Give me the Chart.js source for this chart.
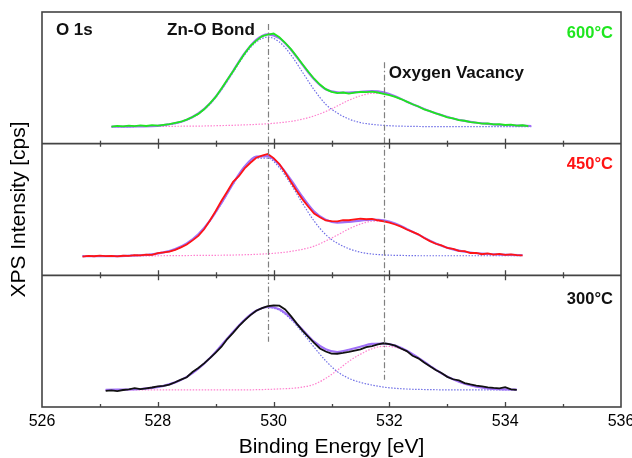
<!DOCTYPE html>
<html>
<head>
<meta charset="utf-8">
<script src="https://cdn.jsdelivr.net/npm/chart.js@4.4.0/dist/chart.umd.min.js"></script>
<style>
html,body{margin:0;padding:0;background:#fff;}
#wrap{width:632px;height:458px;position:relative;}
</style>
</head>
<body>
<div id="wrap"><canvas id="c" width="632" height="458"></canvas></div>
<script>
// ---------- DATA ----------
// x tick labels (binding energy, eV)
const tickLabels = [526, 528, 530, 532, 534, 536];
const minorTicks = [527, 529, 531, 533, 535];

// ----- 600 °C -----
const energy600 = [527.2,527.3,527.4,527.5,527.6,527.7,527.8,527.9,528.0,528.1,528.2,528.3,528.4,528.5,528.6,528.7,528.8,528.9,529.0,529.1,529.2,529.3,529.4,529.5,529.6,529.7,529.8,529.9,530.0,530.1,530.2,530.3,530.4,530.5,530.6,530.7,530.8,530.9,531.0,531.1,531.2,531.3,531.4,531.5,531.6,531.7,531.8,531.9,532.0,532.1,532.2,532.3,532.4,532.5,532.6,532.7,532.8,532.9,533.0,533.1,533.2,533.3,533.4,533.5,533.6,533.7,533.8,533.9,534.0,534.1,534.2,534.3,534.4];
const counts600 = [17.0,17.6,17.2,17.9,17.4,18.2,17.6,18.4,18.0,18.8,
  19.4,20.6,21.8,24.0,26.5,29.6,34.2,40.0,46.5,55.0,
  63.6,72.0,81.0,89.8,97.2,102.5,106.8,108.6,109.6,105.8,
  100.4,94.0,86.8,79.0,71.5,64.6,58.8,54.2,51.6,50.2,
  50.9,49.8,50.8,51.6,51.2,51.8,50.9,49.6,48.4,46.6,
  44.4,41.8,39.2,37.0,34.2,32.3,30.1,28.4,26.2,25.1,
  23.4,22.8,21.4,21.0,20.0,20.2,19.2,19.5,18.6,18.9,
  18.0,18.3,17.5];
const compE600 = [527.2,527.5,527.7,527.9,528.1,528.3,528.5,528.7,528.9,529.1,529.3,529.5,529.7,529.9,530.1,530.3,530.5,530.7,530.9,531.1,531.3,531.5,531.7,531.9,532.1,532.3,532.5,532.7,532.9,533.1,533.3,533.5,533.7,533.9,534.1,534.3,534.45];
const znO600 = [17,17,17.1,17.3,18.3,20,23.5,29.5,39.2,53.6,
  71,88.3,101.2,106,101.2,88.3,71,53.6,39.2,30.5,24.5,21,19.2,18.2,17.6,
  17.3,17.1,17,17,17,17,17,17,17,17,17,17];
const vac600 = [17.0,17.0,17.1,17.1,17.2,17.3,17.4,17.5,17.7,18.0,
  18.3,18.7,19.2,19.8,20.8,22.2,24.4,27.6,32.0,37.5,
  43.2,47.6,50.0,49.8,46.6,41.5,36.8,32.2,28.4,25.0,
  22.6,20.8,19.6,18.8,18.3,17.9,17.6];
const fit600 = [17.0,17.0,17.2,17.4,18.5,20.3,23.9,30.0,39.9,54.6,
  72.3,90.0,103.4,108.8,105.0,93.5,78.4,64.2,54.2,51.0,
  50.7,51.6,52.2,51.0,47.2,41.8,36.9,32.2,28.4,25.0,
  22.6,20.8,19.6,18.8,18.3,17.9,17.6];

// ----- 450 °C -----
const energy450 = [526.7,526.8,526.9,527.0,527.1,527.2,527.3,527.4,527.5,527.6,527.7,527.8,527.9,528.0,528.1,528.2,528.3,528.4,528.5,528.6,528.7,528.8,528.9,529.0,529.1,529.2,529.3,529.4,529.5,529.6,529.7,529.8,529.9,530.0,530.1,530.2,530.3,530.4,530.5,530.6,530.7,530.8,530.9,531.0,531.1,531.2,531.3,531.4,531.5,531.6,531.7,531.8,531.9,532.0,532.1,532.2,532.3,532.4,532.5,532.6,532.7,532.8,532.9,533.0,533.1,533.2,533.3,533.4,533.5,533.6,533.7,533.8,533.9,534.0,534.1,534.2,534.3];
const counts450 = [18.7,19.3,19.0,19.6,19.2,19.4,18.9,19.5,19.3,20.2,
  19.8,20.6,20.4,22.2,22.8,23.6,25.4,27.8,30.6,34.8,
  39.2,45.8,54.5,64.0,74.2,83.5,93.0,98.6,106.4,112.0,
  117.0,119.0,120.8,116.6,110.8,102.4,92.8,84.0,75.6,68.2,
  61.4,57.8,54.6,54.0,53.6,55.0,54.8,55.6,56.4,55.8,
  56.2,54.8,53.8,52.4,50.6,48.4,45.6,43.2,40.8,37.2,
  34.0,31.4,29.8,27.2,26.4,24.4,24.0,22.2,22.4,21.0,
  21.8,20.6,21.4,20.4,20.8,20.1,19.8];
const compE450 = [526.7,526.9,527.1,527.3,527.5,527.7,527.9,528.1,528.3,528.5,528.7,528.9,529.1,529.3,529.5,529.7,529.9,530.1,530.3,530.5,530.7,530.9,531.1,531.3,531.5,531.7,531.9,532.1,532.3,532.5,532.7,532.9,533.1,533.3,533.5,533.7,533.9,534.1,534.3];
const znO450 = [19.5,19.5,19.5,19.5,19.8,20.2,21.0,22.8,26.0,31.5,
  40.5,54.0,71.6,90.6,107.2,116.7,116.7,107.2,90.6,71.6,
  54.0,40.5,32.0,26.5,23.0,21.2,20.3,19.9,19.7,19.5,
  19.5,19.5,19.5,19.5,19.5,19.5,19.5,19.5,19.5];
const vac450 = [19.0,19.0,19.1,19.1,19.2,19.3,19.4,19.5,19.6,19.7,
  19.8,19.9,20.0,20.2,20.5,20.9,21.5,22.4,23.8,25.9,
  29.0,34.2,40.0,46.2,51.0,53.8,54.0,51.2,46.0,40.5,
  34.5,29.5,25.8,23.5,22.0,21.2,20.7,20.3,20.0];
const fit450 = [19.0,19.0,19.1,19.1,19.5,20.0,20.9,22.8,26.1,31.7,
  40.8,54.4,72.1,91.3,108.2,118.1,118.7,110.1,94.9,78.0,
  63.5,55.2,52.5,53.2,54.5,55.5,54.8,51.6,46.2,40.5,
  34.5,29.5,25.8,23.5,22.0,21.2,20.7,20.3,20.0];

// ----- 300 °C -----
const energy300 = [527.1,527.2,527.3,527.4,527.5,527.6,527.7,527.8,527.9,528.0,528.1,528.2,528.3,528.4,528.5,528.6,528.7,528.8,528.9,529.0,529.1,529.2,529.3,529.4,529.5,529.6,529.7,529.8,529.9,530.0,530.1,530.2,530.3,530.4,530.5,530.6,530.7,530.8,530.9,531.0,531.1,531.2,531.3,531.4,531.5,531.6,531.7,531.8,531.9,532.0,532.1,532.2,532.3,532.4,532.5,532.6,532.7,532.8,532.9,533.0,533.1,533.2,533.3,533.4,533.5,533.6,533.7,533.8,533.9,534.0,534.1,534.2];
const counts300 = [16.0,16.6,15.8,16.9,17.6,18.8,17.8,18.6,19.4,20.6,
  21.0,22.2,24.6,27.2,29.6,34.8,38.8,43.4,48.6,54.2,
  60.0,67.6,73.8,80.4,86.2,91.4,95.8,98.4,100.4,101.0,
  100.8,97.0,90.4,83.0,76.0,69.8,63.8,58.2,55.2,53.2,
  53.0,53.8,54.8,56.2,57.4,59.6,60.6,62.2,63.4,62.6,
  61.0,58.2,55.6,51.0,48.4,44.2,40.6,36.8,33.8,30.0,
  27.6,26.4,23.8,22.4,21.2,20.6,19.6,19.0,18.6,19.8,
  17.6,17.0];
const compE300 = [527.1,527.3,527.5,527.7,527.9,528.1,528.3,528.5,528.7,528.9,529.1,529.3,529.5,529.7,529.9,530.1,530.3,530.5,530.7,530.9,531.1,531.3,531.5,531.7,531.9,532.1,532.3,532.5,532.7,532.9,533.1,533.3,533.5,533.7,533.9,534.1,534.2];
const znO300 = [17.0,17.2,17.4,17.9,19.0,21.0,24.5,30.0,38.1,48.7,
  61.4,74.7,86.8,95.5,99.0,96.2,87.1,74.0,59.5,46.0,
  35.2,28.5,24.5,21.8,19.8,18.6,17.9,17.5,17.3,17.1,
  17.1,17.0,17.0,17.0,17.0,17.0,17.0];
const vac300 = [17.0,17.0,17.0,17.0,17.0,17.0,17.0,17.0,17.0,17.0,
  17.0,17.0,17.0,17.2,17.5,18.0,18.5,19.8,22.5,28.5,
  36.5,45.5,52.5,58.0,60.4,59.5,55.1,48.4,40.7,33.4,
  27.4,23.1,20.2,18.6,17.8,17.4,17.2];
const fit300 = [17.0,17.2,17.4,17.9,19.0,21.0,24.5,30.0,38.1,48.7,
  61.4,74.7,86.8,95.7,99.5,97.2,88.6,76.8,65.0,57.5,
  54.7,57.0,60.0,62.8,63.2,61.1,56.0,48.9,41.0,33.5,
  27.5,23.1,20.2,18.6,17.8,17.4,17.2];

// peak positions marked by dash-dot lines (eV)
const peakZnO = 529.9;
const peakVac = 531.9;

// ---------- STYLES ----------
const FONT = '"Liberation Sans", Arial, Helvetica, sans-serif';
const C_GREEN = '#1fe61f';
const C_RED = '#ff1414';
const C_BLACK = '#111111';
const C_FIT = '#a070f8';
const C_ZNO = '#6f6fe6';
const C_VAC = '#ff80cf';

function pts(xs, ys) { return xs.map((x, i) => ({x: x, y: ys[i]})); }

function panelSets(axis, color, E, raw, cE, fit, zno, vac) {
  return [
    {data: pts(E, raw), yAxisID: axis, borderColor: color, borderWidth: 1.8, pointRadius: 0, tension: 0, order: 0},
    {data: pts(cE, zno), yAxisID: axis, borderColor: C_ZNO, borderWidth: 1.2, borderDash: [1.5, 1.5], pointRadius: 0, cubicInterpolationMode: 'monotone', order: 2},
    {data: pts(cE, vac), yAxisID: axis, borderColor: C_VAC, borderWidth: 1.2, borderDash: [1.5, 1.5], pointRadius: 0, cubicInterpolationMode: 'monotone', order: 2},
    {data: pts(cE, fit), yAxisID: axis, borderColor: C_FIT, borderWidth: 2.2, pointRadius: 0, cubicInterpolationMode: 'monotone', order: 1}
  ];
}

const datasets = [].concat(
  panelSets('y600', C_GREEN, energy600, counts600, compE600, fit600, znO600, vac600),
  panelSets('y450', C_RED, energy450, counts450, compE450, fit450, znO450, vac450),
  panelSets('y300', C_BLACK, energy300, counts300, compE300, fit300, znO300, vac300)
);

function yAxis(withTitle) {
  return {
    type: 'linear', position: 'left', stack: 'panels', stackWeight: 1,
    min: 0, max: 131,
    ticks: {display: false},
    grid: {display: false, drawTicks: false},
    border: {display: false},
    title: {
      display: withTitle, text: 'XPS Intensity [cps]', color: '#000',
      font: {family: FONT, size: 21, lineHeight: 1.2}, padding: {top: 7, bottom: 0}
    },
    afterFit(s) { s.width = 42; }
  };
}

const decorPlugin = {
  id: 'decor',
  afterDatasetsDraw(chart) {
    const {ctx, chartArea: a, scales} = chart;
    const x = scales.x;
    const panels = [scales.y600, scales.y450, scales.y300];
    ctx.save();
    // dash-dot guide lines
    ctx.strokeStyle = '#808080';
    ctx.lineWidth = 1.2;
    ctx.setLineDash([6, 2.5, 1.5, 2.5]);
    [[peakZnO, 119, 65], [peakVac, 81, 27]].forEach(([e, vTop, vBot]) => {
      const px = Math.round(x.getPixelForValue(e)) + 0.5;
      ctx.beginPath();
      ctx.moveTo(px, scales.y600.getPixelForValue(vTop));
      ctx.lineTo(px, scales.y300.getPixelForValue(vBot));
      ctx.stroke();
    });
    ctx.setLineDash([]);
    // frame and panel dividers
    ctx.strokeStyle = '#444';
    ctx.lineWidth = 1.6;
    ctx.strokeRect(a.left, a.top, a.right - a.left, a.bottom - a.top);
    panels.forEach((s, i) => {
      if (i < panels.length - 1) {
        ctx.beginPath();
        ctx.moveTo(a.left, s.bottom);
        ctx.lineTo(a.right, s.bottom);
        ctx.stroke();
      }
      ctx.lineWidth = 1.3;
      const all = tickLabels.concat(minorTicks);
      all.forEach(v => {
        if (v <= x.min || v >= x.max) return;
        const px = Math.round(x.getPixelForValue(v)) + 0.5;
        const len = minorTicks.includes(v) ? 3 : 5;
        ctx.beginPath();
        ctx.moveTo(px, s.bottom);
        ctx.lineTo(px, s.bottom - len);
        if (i > 0) {
          ctx.moveTo(px, s.top);
          ctx.lineTo(px, s.top + len);
        }
        ctx.stroke();
      });
      ctx.lineWidth = 1.6;
    });
    // labels
    ctx.font = 'bold 17px ' + FONT;
    ctx.textBaseline = 'alphabetic';
    ctx.textAlign = 'left';
    ctx.fillStyle = '#111';
    ctx.fillText('O 1s', x.getPixelForValue(526.24), scales.y600.getPixelForValue(108.5));
    ctx.fillText('Zn-O Bond', x.getPixelForValue(528.16), scales.y600.getPixelForValue(108));
    ctx.fillText('Oxygen Vacancy', x.getPixelForValue(531.99), scales.y600.getPixelForValue(65.7));
    ctx.font = 'bold 16.5px ' + FONT;
    ctx.textAlign = 'right';
    const rx = x.getPixelForValue(535.86);
    ctx.fillStyle = C_GREEN;
    ctx.fillText('600°C', rx, scales.y600.getPixelForValue(104.7));
    ctx.fillStyle = C_RED;
    ctx.fillText('450°C', rx, scales.y450.getPixelForValue(105.3));
    ctx.fillStyle = '#111';
    ctx.fillText('300°C', rx, scales.y300.getPixelForValue(102));
    ctx.restore();
  }
};

new Chart(document.getElementById('c'), {
  type: 'line',
  data: {datasets: datasets},
  options: {
    responsive: false,
    animation: false,
    devicePixelRatio: 1,
    layout: {padding: {top: 12, right: 11, left: 0, bottom: 0}},
    plugins: {legend: {display: false}, tooltip: {enabled: false}},
    scales: {
      x: {
        type: 'linear', position: 'bottom', min: 526, max: 536,
        afterBuildTicks(s) { s.ticks = tickLabels.map(v => ({value: v})); },
        ticks: {color: '#000', padding: 5, font: {family: FONT, size: 16}, maxRotation: 0},
        grid: {display: false, drawTicks: false},
        border: {display: false},
        title: {display: true, text: 'Binding Energy [eV]', color: '#000', font: {family: FONT, size: 21, lineHeight: 1}, padding: {top: 0, bottom: 0}},
        afterFit(s) { s.height = 51; s.paddingLeft = 0; s.paddingRight = 0; }
      },
      y300: yAxis(false),
      y450: yAxis(true),
      y600: yAxis(false)
    }
  },
  plugins: [decorPlugin]
});
</script>
</body>
</html>
